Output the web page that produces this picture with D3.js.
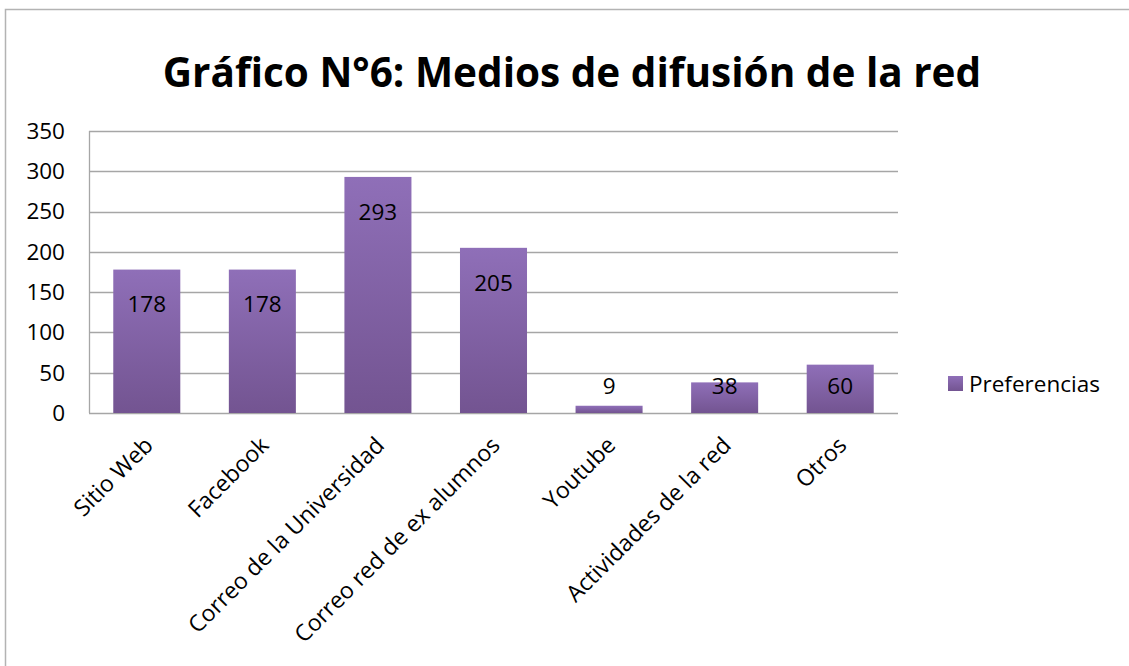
<!DOCTYPE html>
<html>
<head>
<meta charset="utf-8">
<script src="https://cdn.jsdelivr.net/npm/d3@7"></script>
<style>
  body { margin: 0; background: #fff; }
  svg { font-family: "Open Sans", Lato, sans-serif; }
</style>
</head>
<body>
<svg id="chart" width="1129" height="666"></svg>
<script>
const categories = ["Sitio Web", "Facebook", "Correo de la Universidad", "Correo red de ex alumnos", "Youtube", "Actividades de la red", "Otros"];
const preferencias = [178, 178, 293, 205, 9, 38, 60];
const yTicks = [0, 50, 100, 150, 200, 250, 300, 350];
const seriesName = "Preferencias";
const title = "Gráfico N°6: Medios de difusión de la red";

const svg = d3.select("#chart");
const fs = 22.5;

// outer frame
svg.append("rect")
  .attr("x", 5.5).attr("y", 9.5)
  .attr("width", 1140).attr("height", 680)
  .attr("fill", "none").attr("stroke", "#b3b3b3").attr("stroke-width", 1.5);

svg.append("text")
  .attr("x", 572).attr("y", 87)
  .attr("text-anchor", "middle")
  .attr("font-size", 40.5).attr("font-weight", "bold")
  .attr("fill", "#000")
  .text(title);

const margin = { top: 131, left: 89 };
const width = 898 - 89;
const height = 413 - 131;

const x = d3.scaleBand().domain(categories).range([0, width]).paddingInner(0.42).paddingOuter(0.21);
const y = d3.scaleLinear().domain([0, 350]).range([height, 0]);

const defs = svg.append("defs");
const grad = defs.append("linearGradient").attr("id", "barGrad")
  .attr("x1", 0).attr("y1", 0).attr("x2", 0).attr("y2", 1);
grad.append("stop").attr("offset", "0%").attr("stop-color", "#8f6fb8");
grad.append("stop").attr("offset", "100%").attr("stop-color", "#735491");

const g = svg.append("g").attr("transform", `translate(${margin.left},${margin.top})`);

// gridlines
g.selectAll(".grid").data(yTicks).enter().append("line")
  .attr("x1", 0).attr("x2", width)
  .attr("y1", d => Math.round(y(d)) + 0.5).attr("y2", d => Math.round(y(d)) + 0.5)
  .attr("stroke", "#a6a6a6").attr("stroke-width", 1.3);

g.append("line")
  .attr("x1", 0.5).attr("x2", 0.5).attr("y1", 0).attr("y2", height)
  .attr("stroke", "#a6a6a6").attr("stroke-width", 1.3);

// y axis labels
g.selectAll(".ytick").data(yTicks).enter().append("text")
  .attr("x", -24).attr("y", d => y(d))
  .attr("dy", "0.35em")
  .attr("text-anchor", "end")
  .attr("font-size", fs)
  .text(d => d);

// bars
g.selectAll(".bar").data(preferencias).enter().append("rect")
  .attr("x", (d, i) => x(categories[i]))
  .attr("y", d => y(d))
  .attr("width", x.bandwidth())
  .attr("height", d => height - y(d))
  .attr("fill", "url(#barGrad)");

// value labels
g.selectAll(".val").data(preferencias).enter().append("text")
  .attr("x", (d, i) => x(categories[i]) + x.bandwidth() / 2)
  .attr("y", d => Math.min(y(d) + 35, 255))
  .attr("dy", "0.35em")
  .attr("text-anchor", "middle")
  .attr("font-size", fs)
  .text(d => d);

// x labels
g.selectAll(".xlab").data(categories).enter().append("text")
  .attr("transform", d => `translate(${x(d) + x.bandwidth() / 2 + 2},${height + 28}) rotate(-45)`)
  .attr("text-anchor", "end")
  .attr("dy", "0.35em")
  .attr("font-size", 23)
  .text(d => d);

// legend
svg.append("rect").attr("x", 948).attr("y", 376).attr("width", 15).attr("height", 15).attr("fill", "url(#barGrad)");
svg.append("text").attr("x", 969).attr("y", 384).attr("dy", "0.35em").attr("font-size", fs).text(seriesName);
</script>
</body>
</html>
